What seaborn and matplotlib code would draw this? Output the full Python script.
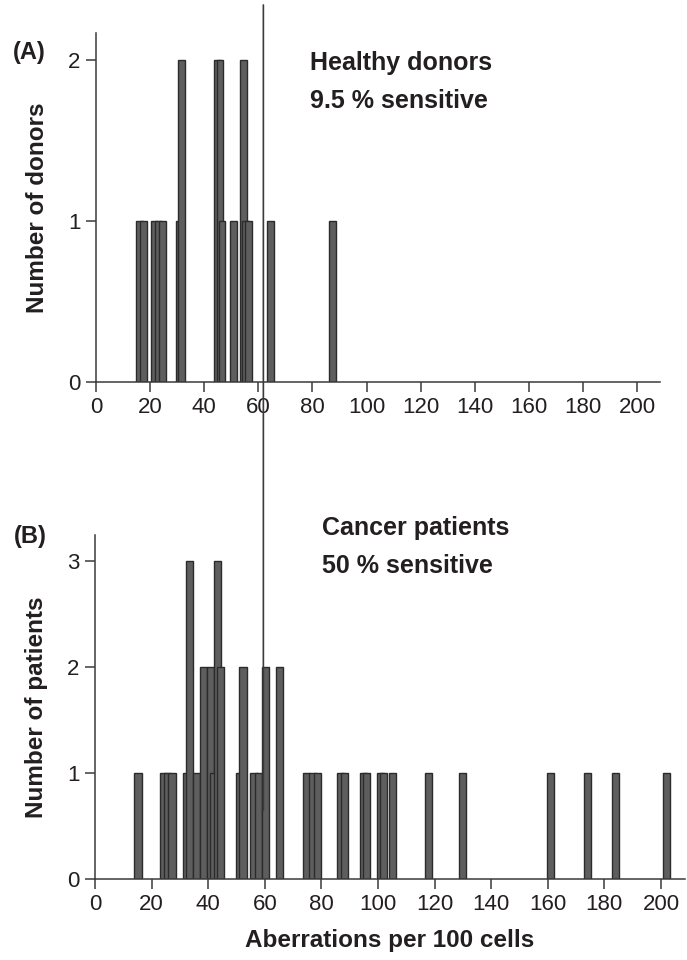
import matplotlib
matplotlib.use("Agg")
import matplotlib.pyplot as plt
from matplotlib.patches import ConnectionPatch
import seaborn as sns
import pandas as pd

# ---- data ----
donor_values = [16, 17.7, 21.7, 23.1, 24.6, 30.7, 31.6, 44.9, 45.8, 46.6, 50.7, 54.6, 55.4, 56.5, 64.6, 87.5]
donor_counts = [1, 1, 1, 1, 1, 1, 2, 2, 2, 1, 1, 2, 1, 1, 1, 1]

patient_values = [15.2, 24.2, 25.7, 27.2, 32.2, 33.3, 35.9, 38.3, 40.8, 42.0, 43.3, 44.4,
                  51.2, 52.3, 56.2, 57.7, 60.2, 65.2, 74.9, 76.7, 78.7, 86.7, 88.3,
                  94.8, 96.1, 100.8, 102.1, 105.0, 118.0, 130.0, 161.0, 174.0, 184.0, 202.0]
patient_counts = [1, 1, 1, 1, 1, 3, 1, 2, 2, 1, 3, 2,
                  1, 2, 1, 1, 2, 2, 1, 1, 1, 1, 1,
                  1, 1, 1, 1, 1, 1, 1, 1, 1, 1, 1]

threshold = 59.5
x_ticks = [0, 20, 40, 60, 80, 100, 120, 140, 160, 180, 200]
donor_yticks = [0, 1, 2]
patient_yticks = [0, 1, 2, 3]

title_a = ["Healthy donors", "9.5 % sensitive"]
title_b = ["Cancer patients", "50 % sensitive"]

# ---- style ----
sns.set_theme(style="ticks")
plt.rcParams["font.family"] = ["Liberation Sans", "DejaVu Sans"]
ink = "#231f20"
spine_c = "#3a3a3a"
bar_face = "#5e5e5e"
bar_edge = "#2b2b2b"

fig = plt.figure(figsize=(6.87, 9.6), dpi=100)
W, H = 687, 960
axA = fig.add_axes([96 / W, 1 - 382 / H, (660 - 96) / W, (382 - 33) / H])
axB = fig.add_axes([95 / W, 1 - 879 / H, (685 - 95) / W, (879 - 535) / H])

dfA = pd.DataFrame({"x": donor_values, "n": donor_counts})
dfB = pd.DataFrame({"x": patient_values, "n": patient_counts})

for ax, df, yt, ytop in [(axA, dfA, donor_yticks, 2.17), (axB, dfB, patient_yticks, 3.25)]:
    ax.bar(df["x"], df["n"], width=2.5, color=bar_face, edgecolor=bar_edge, linewidth=1.0, zorder=2)
    ax.set_xlim(0, 208.5)
    ax.set_ylim(0, ytop)
    ax.set_xticks(x_ticks)
    ax.set_yticks(yt)
    sns.despine(ax=ax)
    for s in ("left", "bottom"):
        ax.spines[s].set_color(spine_c)
        ax.spines[s].set_linewidth(1.1)
    ax.tick_params(axis="both", direction="out", length=7, width=1.1, color=spine_c,
                   labelsize=16, labelcolor=ink, pad=4)
    ax.set_facecolor("white")

axA.set_ylabel("Number of donors", fontsize=17.5, fontweight="bold", color=ink, labelpad=14)
axB.set_ylabel("Number of patients", fontsize=17.5, fontweight="bold", color=ink, labelpad=14)
axB.set_xlabel("Aberrations per 100 cells", fontsize=17.5, fontweight="bold", color=ink, labelpad=10)

fig.text(13 / W, 1 - 52 / H, "(A)", fontsize=17, fontweight="bold", color=ink, va="center")
fig.text(14 / W, 1 - 537 / H, "(B)", fontsize=17, fontweight="bold", color=ink, va="center")

fig.text(310 / W, 1 - 63 / H, title_a[0], fontsize=18, fontweight="bold", color=ink, va="center")
fig.text(310 / W, 1 - 101 / H, title_a[1], fontsize=18, fontweight="bold", color=ink, va="center")
fig.text(322 / W, 1 - 528 / H, title_b[0], fontsize=18, fontweight="bold", color=ink, va="center")
fig.text(322 / W, 1 - 566 / H, title_b[1], fontsize=18, fontweight="bold", color=ink, va="center")

# threshold line spanning both panels
xfig = fig.transFigure.inverted().transform(axB.transData.transform((threshold, 0)))[0]
con = ConnectionPatch(xyA=(threshold, 0.65), coordsA="data", axesA=axB,
                      xyB=(xfig, 1 - 5 / H), coordsB="figure fraction",
                      color="#3a3a3a", linewidth=1.2, zorder=5)
fig.add_artist(con)

fig.savefig("out.png", dpi=100, facecolor="white")
